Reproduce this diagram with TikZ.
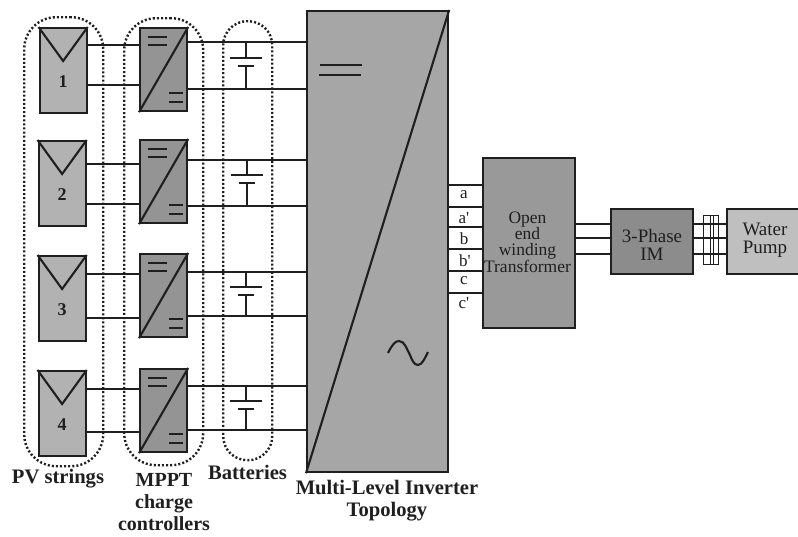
\documentclass[tikz,border=0pt]{standalone}
\usetikzlibrary{calc}
\usepackage{fontspec}
\setmainfont{Liberation Serif}
\definecolor{pvg}{gray}{0.70}
\definecolor{mpg}{gray}{0.58}
\definecolor{ing}{gray}{0.65}
\definecolor{trg}{gray}{0.60}
\definecolor{img}{gray}{0.55}
\definecolor{wpg}{gray}{0.75}
\definecolor{ink}{gray}{0.12}
\tikzset{
 blk/.style={draw=ink,line width=2.2pt,rectangle,inner sep=0pt,anchor=north west},
 pvbox/.style={blk,fill=pvg,minimum width=47pt,minimum height=85pt},
 mpbox/.style={blk,fill=mpg,minimum width=47pt,minimum height=83pt},
 wire/.style={draw=ink,line width=2.1pt},
 thin wire/.style={draw=ink,line width=1pt},
 dots/.style={draw=ink,line width=2.4pt,dash pattern=on 2.0pt off 2.1pt},
 cap lab/.style={font=\bfseries\fontsize{20.6}{22}\selectfont,align=center,text=ink,inner sep=0pt},
 reg lab/.style={font=\fontsize{17}{17}\selectfont,align=center,text=ink,inner sep=0pt},
 num lab/.style={font=\bfseries\fontsize{18}{18}\selectfont,text=ink,inner sep=0pt},
}
\begin{document}
\begin{tikzpicture}[x=1pt,y=-1pt]
\useasboundingbox (0,0) rectangle (798,536);
% dotted groups
\node[dots,rectangle,rounded corners=32pt,minimum width=79pt,minimum height=449pt,inner sep=0pt,anchor=north west] (gpv) at (23,16) {};
\node[dots,rectangle,rounded corners=32pt,minimum width=79pt,minimum height=447pt,inner sep=0pt,anchor=north west] (gmp) at (123,17) {};
\node[dots,rectangle,rounded corners=24pt,minimum width=49pt,minimum height=439pt,inner sep=0pt,anchor=north west] (gbt) at (222,20) {};
% inverter
\node[blk,fill=ing,minimum width=141pt,minimum height=461pt] (inv) at (306,10) {};
\draw[wire] (inv.south west) -- (inv.north east);
\draw[wire] (320,65) -- (362,65) (319,75) -- (361,75);
\draw[wire] (388,353) .. controls (392,345) and (395,341) .. (399,341) .. controls (405,341) and (407,350) .. (410,355) .. controls (412,360) and (414,365) .. (418,365) .. controls (422,365) and (425,358) .. (428,352);
% rows
\foreach \n/\px/\py/\my/\aa/\ab/\oa/\ob/\bx/\pa in {
 1/38.5/27/27/45/85/42/89/246/58,
 2/37.5/140/139/164/204/160/206/247/175,
 3/37.5/255/253/274/318/272/316/246/287,
 4/37.5/370/368/389/432/386/430/246/401}{
  \node[pvbox] (pv\n) at (\px,\py) {};
  \node[mpbox] (mp\n) at (139,\my) {};
  \draw[wire] (pv\n.north west) -- ($(pv\n.north)+(0,34)$) -- (pv\n.north east);
  \node[num lab] (num\n) at ($(pv\n.center)+(0,11)$) {\n};
  \draw[wire] (mp\n.south west) -- (mp\n.north east);
  \draw[wire] ($(mp\n.north west)+(9,10)$) -- +(19,0) ($(mp\n.north west)+(9,18)$) -- +(19,0);
  \draw[wire] ($(mp\n.south east)+(-19,-19)$) -- +(14,0) ($(mp\n.south east)+(-19,-10)$) -- +(14,0);
  \draw[wire] (pv\n.east |- 0,\aa) -- (mp\n.west |- 0,\aa);
  \draw[wire] (pv\n.east |- 0,\ab) -- (mp\n.west |- 0,\ab);
  \draw[wire] (mp\n.east |- 0,\oa) -- (inv.west |- 0,\oa);
  \draw[wire] (mp\n.east |- 0,\ob) -- (inv.west |- 0,\ob);
  \coordinate (bp\n) at (\bx,\pa);
  \draw[wire] (\bx,\oa) -- (bp\n);
  \draw[wire] ($(bp\n)+(-16,0)$) -- ($(bp\n)+(16,0)$);
  \draw[wire] ($(bp\n)+(-8,8)$) -- ($(bp\n)+(8,8)$);
  \draw[wire] ($(bp\n)+(0,8)$) -- (\bx,\ob);
}
% transformer etc
\node[blk,fill=trg,minimum width=92pt,minimum height=170pt] (tr) at (482,157) {};
\node[blk,fill=img,minimum width=82pt,minimum height=65pt] (im) at (610,208) {};
\node[blk,fill=wpg,minimum width=80pt,minimum height=65pt] (wp) at (726,208) {};
\foreach \y in {185,207,227,249,271,293}{\draw[wire] (inv.east |- 0,\y) -- (tr.west |- 0,\y);}
\node[reg lab] (t1) at (464,195) {a};
\node[reg lab] (t2) at (464,218) {a\textquotesingle};
\node[reg lab] (t3) at (464,239) {b};
\node[reg lab] (t4) at (465,261) {b\textquotesingle};
\node[reg lab] (t5) at (464,281) {c};
\node[reg lab] (t6) at (464,303) {c\textquotesingle};
\foreach \y in {224,238,254}{
 \draw[wire] (tr.east |- 0,\y) -- (im.west |- 0,\y);
 \draw[wire] (im.east |- 0,\y) -- (wp.west |- 0,\y);
}
\node[draw=ink,line width=1pt,rectangle,minimum width=15pt,minimum height=49pt,inner sep=0pt,anchor=north west] (hb) at (703,215) {};
\draw[thin wire] (710,215) -- (710,264) (713,215) -- (713,264);
\node[reg lab,font=\fontsize{17.5}{16}\selectfont] (trt) at (527.5,242) {Open\\end\\winding\\Transformer};
\node[reg lab,font=\fontsize{19}{18}\selectfont] (imt) at (652,244.5) {3-Phase\\IM};
\node[reg lab,font=\fontsize{19}{18}\selectfont] (wpt) at (765,240) {Water\\Pump};
% captions
\node[cap lab] (c1) at (58,479) {PV strings};
\node[cap lab,font=\bfseries\fontsize{20}{22}\selectfont] (c2) at (164,502) {MPPT\\charge\\controllers};
\node[cap lab] (c3) at (247.5,472) {Batteries};
\node[cap lab,font=\bfseries\fontsize{20.6}{22}\selectfont] (c4) at (387,501) {Multi-Level Inverter\\Topology};
\end{tikzpicture}
\end{document}
